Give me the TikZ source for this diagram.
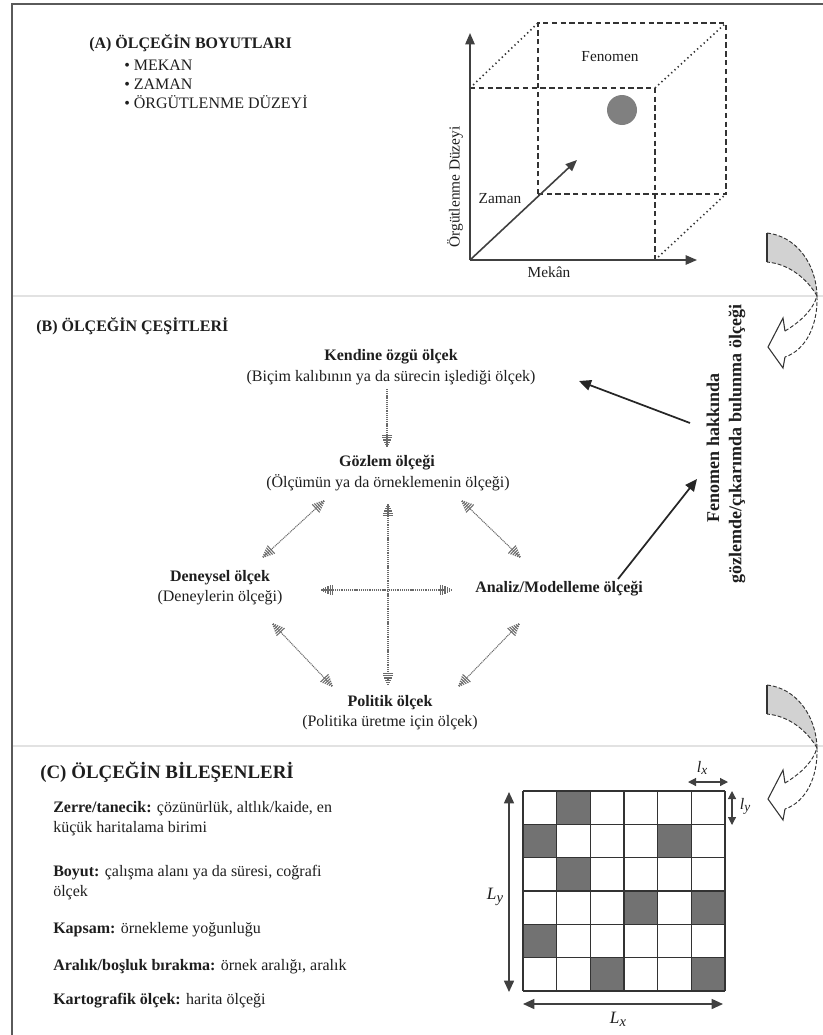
\documentclass[tikz,border=0pt]{standalone}
\usepackage{fontspec}
\setmainfont{Liberation Serif}
\usetikzlibrary{arrows.meta}
\definecolor{framec}{HTML}{5A5A5A}
\definecolor{sepc}{HTML}{E2E2E2}
\definecolor{axc}{HTML}{404040}
\definecolor{dotc}{HTML}{6A6A6A}
\definecolor{ribc}{HTML}{D2D2D2}
\definecolor{cellc}{HTML}{727272}
\definecolor{txtc}{HTML}{1E1E1E}
\tikzset{
  hatchtip/.tip={Bar[width=8.2pt,line width=0.8pt,sep=0.8pt] Bar[width=7pt,line width=0.8pt,sep=0.8pt] Bar[width=5.6pt,line width=0.8pt,sep=0.8pt] Bar[width=4.2pt,line width=0.8pt,sep=0.8pt] Bar[width=2.8pt,line width=0.8pt,sep=0.8pt] Bar[width=1.4pt,line width=0.8pt,sep=0.8pt]},
  soltip/.tip={Triangle[length=8.5pt,width=7pt]},
}
\begin{document}
\begin{tikzpicture}[x=0.75pt,y=-0.75pt,
  every node/.style={inner sep=0pt,text=txtc},
  tx/.style={font=\fontsize{12}{14}\selectfont},
  bx/.style={font=\fontsize{12}{14}\selectfont\bfseries},
  hx/.style={font=\fontsize{12}{14}\selectfont\bfseries},
  cx/.style={font=\fontsize{12}{14}\selectfont},
  lx/.style={font=\fontsize{11.5}{14}\selectfont},
  bigb/.style={font=\fontsize{14.2}{17}\selectfont\bfseries},
  rotb/.style={font=\fontsize{13.5}{16}\selectfont\bfseries,rotate=90},
  frameline/.style={draw=framec,line width=1.5pt},
  sepline/.style={draw=sepc,line width=1pt},
  axis/.style={draw=axc,line width=1.2pt,-{soltip},color=axc},
  dashface/.style={draw=black!80,line width=1pt,dash pattern=on 4pt off 2.6pt},
  dotedge/.style={draw=black!80,line width=1.2pt,dash pattern=on 1pt off 2.3pt},
  dar/.style={draw=dotc,color=dotc,line width=0.8pt,dash pattern=on 0.8pt off 0.6pt},
  sarrow/.style={draw=black!85,color=black!85,line width=1.3pt,-{Triangle[length=9pt,width=8pt]}},
  garrow/.style={draw=axc,color=axc,line width=1.2pt,{Triangle[length=8.5pt,width=7.5pt]}-{Triangle[length=8.5pt,width=7.5pt]}},
  ribedge/.style={draw=black!80,line width=0.7pt,dash pattern=on 3pt off 1.5pt},
  gline/.style={draw=black!80,line width=1pt},
]
\useasboundingbox (0,0) rectangle (823,1035);
% frame and separators
\draw[frameline] (12,1035) -- (12,4) -- (823,4);
\draw[sepline] (13,296) -- (823,296);
\draw[sepline] (13,746) -- (823,746);

% ---------- (A)
\node[hx,anchor=west] (titleA) at (89,43) {(A) ÖLÇEĞİN BOYUTLARI};
\node[tx,anchor=west] (a1) at (124,65) {• MEKAN};
\node[tx,anchor=west] (a2) at (124,84) {• ZAMAN};
\node[tx,anchor=west] (a3) at (124,102) {• ÖRGÜTLENME DÜZEYİ};

% cube
\coordinate (O) at (470,260);
\coordinate (Yt) at (470,33);
\coordinate (Xt) at (697,260);
\coordinate (Zt) at (577,160);
\coordinate (F1) at (470,88);
\coordinate (F2) at (655,88);
\coordinate (F3) at (655,260);
\coordinate (B0) at (538,194);
\coordinate (B1) at (538,23);
\coordinate (B2) at (726,23);
\coordinate (B3) at (726,194);
\draw[dashface] (F1) -- (F2) -- (F3);
\draw[dashface] (B0) -- (B1) -- (B2) -- (B3) -- cycle;
\draw[dotedge] (F1) -- (B1);
\draw[dotedge] (F2) -- (B2);
\draw[dotedge] (F3) -- (B3);
\draw[axis] (O) -- (Yt);
\draw[axis] (O) -- (Xt);
\draw[axis] (O) -- (Zt);
\node[circle,fill=black!50,minimum size=22.5pt] (phen) at (622,110) {};
\node[lx] (fen) at (610,57) {Fenomen};
\node[lx] (zam) at (500,199) {Zaman};
\node[lx] (mek) at (549,272) {Mekân};
\node[lx,rotate=90] (org) at (455,187) {Örgütlenme Düzeyi};

% ribbon arrows
\foreach \dy in {0,452}{
\begin{scope}[shift={(0,\dy)}]
  \fill[ribc] (767,233) .. controls (795,236) and (816,262) .. (817,296)
      .. controls (808,280) and (790,264) .. (767,262) -- cycle;
  \draw[ribedge] (767,233) .. controls (795,236) and (816,262) .. (817,296);
  \draw[ribedge] (817,296) .. controls (808,280) and (790,264) .. (767,262);
  \draw[gline] (767,233) -- (767,262);
  \draw[ribedge] (817,296) .. controls (818,325) and (806,350) .. (785,357);
  \draw[gline,line width=0.8pt] (785,357) -- (783,368) -- (768,347) -- (783,318) -- (785,331);
  \draw[ribedge] (785,331) .. controls (800,322) and (813,310) .. (817,296);
\end{scope}
}

% ---------- (B)
\node[hx,anchor=west] (titleB) at (36,326) {(B) ÖLÇEĞİN ÇEŞİTLERİ};
\node[bx] (kend) at (391,357) {Kendine özgü ölçek};
\node[tx] (kend2) at (391,378) {(Biçim kalıbının ya da sürecin işlediği ölçek)};
\node[bx] (goz) at (387,463) {Gözlem ölçeği};
\node[tx] (goz2) at (388,483) {(Ölçümün ya da örneklemenin ölçeği)};
\node[bx] (den) at (220,578) {Deneysel ölçek};
\node[tx] (den2) at (220,598) {(Deneylerin ölçeği)};
\node[bx,anchor=west] (anl) at (475,589) {Analiz/Modelleme ölçeği};
\node[bx] (pol) at (390,703) {Politik ölçek};
\node[tx] (pol2) at (390,723) {(Politika üretme için ölçek)};

\coordinate (k1) at (387,389);  \coordinate (k2) at (387,448);
\coordinate (v1) at (388,503);  \coordinate (v2) at (388,686);
\coordinate (h1) at (320,590);  \coordinate (h2) at (453,590);
\coordinate (ul1) at (325,500); \coordinate (ul2) at (262,558);
\coordinate (ur1) at (461,500); \coordinate (ur2) at (521,558);
\coordinate (ll1) at (272,623); \coordinate (ll2) at (333,687);
\coordinate (lr1) at (520,623); \coordinate (lr2) at (458,687);
\draw[dar,-{hatchtip}] (k1) -- (k2);
\draw[dar,{hatchtip}-{hatchtip}] (v1) -- (v2);
\draw[dar,{hatchtip}-{hatchtip}] (h1) -- (h2);
\draw[dar,{hatchtip}-{hatchtip}] (ul1) -- (ul2);
\draw[dar,{hatchtip}-{hatchtip}] (ur1) -- (ur2);
\draw[dar,{hatchtip}-{hatchtip}] (ll1) -- (ll2);
\draw[dar,{hatchtip}-{hatchtip}] (lr1) -- (lr2);

\node[rotb] (fh1) at (713,448) {Fenomen hakkında};
\node[rotb] (fh2) at (737,444) {gözlemde/çıkarımda bulunma ölçeği};
\coordinate (s1a) at (690,423); \coordinate (s1b) at (579,381);
\coordinate (s2a) at (618,579); \coordinate (s2b) at (697,479);
\draw[sarrow] (s1a) -- (s1b);
\draw[sarrow] (s2a) -- (s2b);

% ---------- (C)
\node[bigb,anchor=west] (titleC) at (40,772) {(C) ÖLÇEĞİN BİLEŞENLERİ};
\node[cx,anchor=west] (c1) at (53,809) {\textbf{Zerre/tanecik:} çözünürlük, altlık/kaide, en};
\node[cx,anchor=west] (c1b) at (53,829) {küçük haritalama birimi};
\node[cx,anchor=west] (c2) at (53,873) {\textbf{Boyut:} çalışma alanı ya da süresi, coğrafi};
\node[cx,anchor=west] (c2b) at (53,893) {ölçek};
\node[cx,anchor=west] (c3) at (53,930) {\textbf{Kapsam:} örnekleme yoğunluğu};
\node[cx,anchor=west] (c4) at (53,967) {\textbf{Aralık/boşluk bırakma:} örnek aralığı, aralık};
\node[cx,anchor=west] (c5) at (53,1001) {\textbf{Kartografik ölçek:} harita ölçeği};

% grid
\foreach \r/\c in {0/1,1/0,1/4,2/1,3/3,3/5,4/0,5/2,5/5}{
  \fill[cellc] ({523+\c*202/6},{791+\r*200/6}) rectangle ({523+(\c+1)*202/6},{791+(\r+1)*200/6});
}
\foreach \i in {0,...,6}{
  \draw[gline,line width=1.1pt] ({523+\i*202/6},791) -- ({523+\i*202/6},991);
  \draw[gline,line width=1.1pt] (523,{791+\i*200/6}) -- (725,{791+\i*200/6});
}
\coordinate (Ly1) at (509,792); \coordinate (Ly2) at (509,992);
\coordinate (Lx1) at (523,1004); \coordinate (Lx2) at (723,1004);
\coordinate (lx1) at (688,782); \coordinate (lx2) at (728,782);
\coordinate (ly1) at (732,791); \coordinate (ly2) at (732,825);
\draw[garrow] (Ly1) -- (Ly2);
\draw[garrow] (Lx1) -- (Lx2);
\draw[garrow,{Triangle[length=6pt,width=6pt]}-{Triangle[length=6pt,width=6pt]},line width=0.9pt] (lx1) -- (lx2);
\draw[garrow,{Triangle[length=6pt,width=6pt]}-{Triangle[length=6pt,width=6pt]},line width=0.9pt] (ly1) -- (ly2);
\node[font=\fontsize{13}{15}\selectfont\itshape] (LyT) at (495,897) {L\raisebox{-2pt}{\fontsize{11}{13}\selectfont y}};
\node[font=\fontsize{13}{15}\selectfont\itshape] (LxT) at (618,1019) {L\raisebox{-2pt}{\fontsize{11}{13}\selectfont x}};
\node[font=\fontsize{12}{14}\selectfont\itshape] (lxT) at (702,768) {l\raisebox{-1.5pt}{\fontsize{10}{12}\selectfont x}};
\node[font=\fontsize{12}{14}\selectfont\itshape] (lyT) at (745,806) {l\raisebox{-1.5pt}{\fontsize{10}{12}\selectfont y}};
\end{tikzpicture}
\end{document}
